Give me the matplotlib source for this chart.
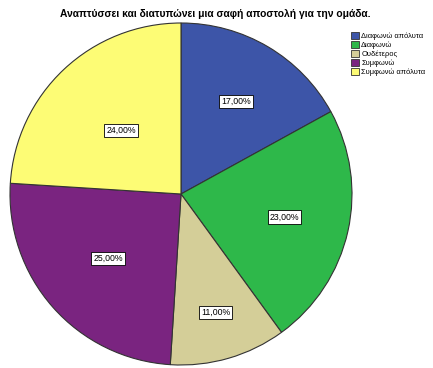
import matplotlib.pyplot as plt
from matplotlib.patches import Patch
import numpy as np

plt.rcParams['font.family'] = ['Liberation Sans', 'DejaVu Sans']

title = 'Αναπτύσσει και διατυπώνει μια σαφή αποστολή για την ομάδα.'
categories = ['Διαφωνώ απόλυτα', 'Διαφωνώ', 'Ουδέτερος', 'Συμφωνώ', 'Συμφωνώ απόλυτα']
percent = [17.0, 23.0, 11.0, 25.0, 24.0]
colors = ['#3d55a8', '#2eb84a', '#d4ce98', '#7a2480', '#fdfc75']
label_radius = [0.63, 0.62, 0.72, 0.57, 0.51]

fig = plt.figure(figsize=(4.33, 3.68), dpi=100)
fig.patch.set_facecolor('white')

ax = fig.add_axes([10 / 433, 3 / 368, 342 / 433, 342 / 368])
wedges, _ = ax.pie(percent, colors=colors, startangle=90, counterclock=False,
                   wedgeprops=dict(edgecolor='#333333', linewidth=0.8))
ax.set_xlim(-1.0, 1.0)
ax.set_ylim(-1.0, 1.0)
ax.set_aspect('equal')

# percentage boxes inside each slice
for w, p, r in zip(wedges, percent, label_radius):
    ang = np.deg2rad((w.theta1 + w.theta2) / 2)
    ax.text(r * np.cos(ang), r * np.sin(ang), f'{p:.2f}%'.replace('.', ','),
            ha='center', va='center', fontsize=6.3,
            bbox=dict(boxstyle='square,pad=0.25', facecolor='white',
                      edgecolor='black', linewidth=0.6))

fig.text(215 / 433, 1 - 14 / 368, title, ha='center', va='center',
         fontsize=7.4, fontweight='bold')

handles = [Patch(facecolor=c, edgecolor='#333333', linewidth=0.6) for c in colors]
fig.legend(handles, categories, loc='upper left',
           bbox_to_anchor=(351 / 433, 1 - 32 / 368), frameon=False,
           fontsize=5.4, handlelength=1.0, handleheight=1.0,
           handletextpad=0.35, labelspacing=0.15, borderpad=0, borderaxespad=0)

fig.savefig('out.png', dpi=100)
